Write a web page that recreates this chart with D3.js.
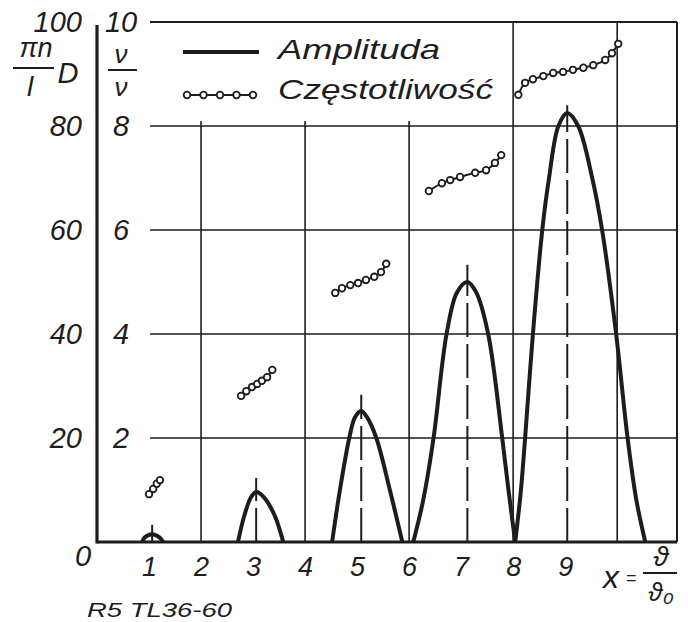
<!DOCTYPE html>
<html>
<head>
<meta charset="utf-8">
<script src="https://cdn.jsdelivr.net/npm/d3@7"></script>
<style>
  body { margin: 0; background: #fff; }
  svg { display: block; }
  text { fill: #1d1d1d; font-family: "Liberation Sans Narrow", "Liberation Sans", sans-serif; font-style: italic; }
</style>
</head>
<body>
<svg id="chart" width="688" height="622"></svg>
<script>
// --- data ---
const ampTicks = [20, 40, 60, 80, 100];          // left axis  (pi n / l  D)
const freqTicks = [2, 4, 6, 8, 10];              // right axis (nu / nu0)
const xTicks = [1, 2, 3, 4, 5, 6, 7, 8, 9];
const xGrid = [2, 4, 6, 8, 10];

// amplitude bumps: [x, amplitude]
const amp1 = [[0.87, 0], [0.92, 0.9], [1.06, 1.5], [1.2, 0.9], [1.27, 0]];
const amp3 = [[2.71, 0], [2.83, 5], [2.96, 8.6], [3.06, 9.6], [3.21, 8.6], [3.42, 5], [3.58, 0]];
const amp5 = [[4.52, 0], [4.67, 10], [4.85, 20], [4.96, 24], [5.08, 25.2], [5.19, 24], [5.37, 20], [5.63, 10], [5.87, 0]];
const amp7 = [[6.08, 0], [6.27, 8], [6.47, 20], [6.72, 40], [6.92, 48], [7.12, 50], [7.29, 48], [7.52, 40], [7.79, 20], [7.91, 10], [8.04, 0]];
const amp9 = [[8.04, 0], [8.15, 10], [8.23, 20], [8.38, 40], [8.56, 60], [8.69, 70], [8.87, 80], [9.04, 82.5], [9.25, 80], [9.52, 70], [9.71, 60], [9.98, 40], [10.2, 20], [10.37, 8], [10.54, 0]];
const ampSeries = [amp1, amp3, amp5, amp7, amp9];

// dash-dot centre lines: x and top value
const centreX = [1.06, 3.06, 5.08, 7.12, 9.04];
const centreTop = [3.3, 12.3, 28.3, 53.3, 84];

// frequency segments: [x, nu/nu0]
const freq1 = [[1.0, 0.92], [1.08, 1.02], [1.15, 1.12], [1.21, 1.19]];
const freq3 = [[2.77, 2.81], [2.87, 2.9], [2.98, 2.98], [3.08, 3.04], [3.17, 3.1], [3.27, 3.17], [3.37, 3.31]];
const freq5 = [[4.58, 4.79], [4.71, 4.88], [4.87, 4.94], [5.02, 4.98], [5.17, 5.04], [5.33, 5.1], [5.46, 5.19], [5.56, 5.35]];
const freq7 = [[6.38, 6.75], [6.63, 6.9], [6.79, 6.96], [6.98, 7.02], [7.27, 7.1], [7.48, 7.15], [7.65, 7.29], [7.77, 7.44]];
const freq9 = [[8.1, 8.6], [8.23, 8.83], [8.38, 8.9], [8.58, 8.96], [8.77, 9.02], [8.96, 9.04], [9.15, 9.08], [9.35, 9.12], [9.54, 9.17], [9.77, 9.27], [9.9, 9.4], [10.02, 9.58]];
const freqSeries = [freq1, freq3, freq5, freq7, freq9];

const legendLabels = ["Amplituda", "Częstotliwość"];

// --- layout ---
const svg = d3.select("#chart");
const ink = "#1d1d1d";

const x = d3.scaleLinear().domain([0, 11.15]).range([97, 677]);
const yA = d3.scaleLinear().domain([0, 100]).range([542, 22]);
const yF = d3.scaleLinear().domain([0, 10]).range([542, 22]);

// grid
svg.append("g")
  .selectAll("line")
  .data(ampTicks)
  .join("line")
    .attr("x1", 150).attr("x2", x(11.15))
    .attr("y1", d => yA(d)).attr("y2", d => yA(d))
    .attr("stroke", ink).attr("stroke-width", d => d === 100 ? 2 : 1.6);

svg.append("g")
  .selectAll("line")
  .data(xGrid)
  .join("line")
    .attr("x1", d => x(d)).attr("x2", d => x(d))
    .attr("y1", yA(0))
    .attr("y2", d => d >= 8 ? yA(100) : yA(80) - 5)
    .attr("stroke", ink).attr("stroke-width", 1.6);

// frame: right border, thick left and bottom axes
svg.append("line").attr("x1", x(11.15)).attr("x2", x(11.15)).attr("y1", yA(100)).attr("y2", yA(0))
  .attr("stroke", ink).attr("stroke-width", 2);
svg.append("line").attr("x1", x(0)).attr("x2", x(0)).attr("y1", 25).attr("y2", yA(0) + 1.5)
  .attr("stroke", ink).attr("stroke-width", 3.2);
svg.append("line").attr("x1", x(0)).attr("x2", x(11.15)).attr("y1", yA(0)).attr("y2", yA(0))
  .attr("stroke", ink).attr("stroke-width", 3.2);

// axes
const axL = svg.append("g").attr("transform", "translate(82,0)")
  .call(d3.axisLeft(yA).tickValues(ampTicks).tickSize(0).tickPadding(0));
const axR = svg.append("g").attr("transform", "translate(121,0)")
  .call(d3.axisRight(yF).tickValues(freqTicks).tickSize(0).tickPadding(0));
const axB = svg.append("g").attr("transform", `translate(0,${yA(0)})`)
  .call(d3.axisBottom(x).tickValues(xTicks).tickSize(0).tickPadding(15));

[axL, axR, axB].forEach(a => {
  a.select(".domain").remove();
  a.attr("font-family", null).attr("font-size", null);
  a.selectAll("text").attr("font-size", 29).attr("fill", ink);
});
axR.selectAll("text").attr("text-anchor", "middle").attr("x", 0);
axB.selectAll("text").attr("font-size", 27);

// origin label
svg.append("text").attr("x", 83).attr("y", 566).attr("text-anchor", "middle")
  .attr("font-size", 29).text("0");

// dash-dot centre lines
svg.append("g")
  .selectAll("line")
  .data(centreX)
  .join("line")
    .attr("x1", d => x(d)).attr("x2", d => x(d))
    .attr("y1", yA(0)).attr("y2", (d, i) => yA(centreTop[i]))
    .attr("stroke", ink).attr("stroke-width", 2)
    .attr("stroke-dasharray", "34,7");

// amplitude curves
const ampLine = d3.line()
  .x(d => x(d[0])).y(d => yA(d[1]))
  .curve(d3.curveCatmullRom.alpha(0.5));

svg.append("g")
  .selectAll("path")
  .data(ampSeries)
  .join("path")
    .attr("d", ampLine)
    .attr("fill", "none").attr("stroke", ink)
    .attr("stroke-width", 4).attr("stroke-linejoin", "round");

// frequency segments
const freqLine = d3.line()
  .x(d => x(d[0])).y(d => yF(d[1]))
  .curve(d3.curveCatmullRom);

const fg = svg.append("g");
fg.selectAll("path")
  .data(freqSeries)
  .join("path")
    .attr("d", freqLine)
    .attr("fill", "none").attr("stroke", ink).attr("stroke-width", 2);

fg.selectAll("circle")
  .data(freqSeries.flat())
  .join("circle")
    .attr("cx", d => x(d[0])).attr("cy", d => yF(d[1]))
    .attr("r", 3.3)
    .attr("fill", "#fff").attr("stroke", ink).attr("stroke-width", 1.8);

// legend
const lg = svg.append("g");
lg.append("line").attr("x1", 183).attr("x2", 259).attr("y1", 52).attr("y2", 52)
  .attr("stroke", ink).attr("stroke-width", 4);
lg.append("line").attr("x1", 183).attr("x2", 257).attr("y1", 95).attr("y2", 95)
  .attr("stroke", ink).attr("stroke-width", 2);
lg.selectAll("circle")
  .data(d3.range(5))
  .join("circle")
    .attr("cx", i => 187 + i * 16.5).attr("cy", 95).attr("r", 3.3)
    .attr("fill", "#fff").attr("stroke", ink).attr("stroke-width", 1.8);
lg.selectAll("text")
  .data(legendLabels)
  .join("text")
    .attr("x", 278).attr("y", (d, i) => i === 0 ? 59 : 99)
    .attr("font-size", 28)
    .attr("textLength", (d, i) => i === 0 ? 162 : 215)
    .attr("lengthAdjust", "spacingAndGlyphs")
    .text(d => d);

// left axis title: pi n / l  D
svg.append("text").attr("x", 36).attr("y", 57).attr("text-anchor", "middle").attr("font-size", 27).text("πn");
svg.append("line").attr("x1", 13).attr("x2", 54).attr("y1", 68).attr("y2", 68).attr("stroke", ink).attr("stroke-width", 2);
svg.append("text").attr("x", 30).attr("y", 96).attr("text-anchor", "middle").attr("font-size", 28).text("l");
svg.append("text").attr("x", 68).attr("y", 83).attr("text-anchor", "middle").attr("font-size", 29).text("D");

// right axis title: nu / nu
svg.append("text").attr("x", 121).attr("y", 63).attr("text-anchor", "middle").attr("font-size", 26).attr("font-style", "normal").text("ν");
svg.append("line").attr("x1", 108).attr("x2", 137).attr("y1", 70).attr("y2", 70).attr("stroke", ink).attr("stroke-width", 2);
svg.append("text").attr("x", 121).attr("y", 96).attr("text-anchor", "middle").attr("font-size", 26).attr("font-style", "normal").text("ν");

// x axis title: x = theta / theta0
svg.append("text").attr("x", 611).attr("y", 588).attr("text-anchor", "middle").attr("font-size", 32).text("x");
svg.append("text").attr("x", 631).attr("y", 584).attr("text-anchor", "middle").attr("font-size", 18).text("=");
svg.append("text").attr("x", 661).attr("y", 566).attr("text-anchor", "middle").attr("font-size", 28).text("ϑ");
svg.append("line").attr("x1", 643).attr("x2", 677).attr("y1", 573).attr("y2", 573).attr("stroke", ink).attr("stroke-width", 2);
svg.append("text").attr("x", 661).attr("y", 601).attr("text-anchor", "middle").attr("font-size", 26).text("ϑ₀");

// plate code
svg.append("text").attr("x", 87).attr("y", 617).attr("font-size", 21)
  .attr("textLength", 145).attr("lengthAdjust", "spacingAndGlyphs").text("R5 TL36-60");
</script>
</body>
</html>
